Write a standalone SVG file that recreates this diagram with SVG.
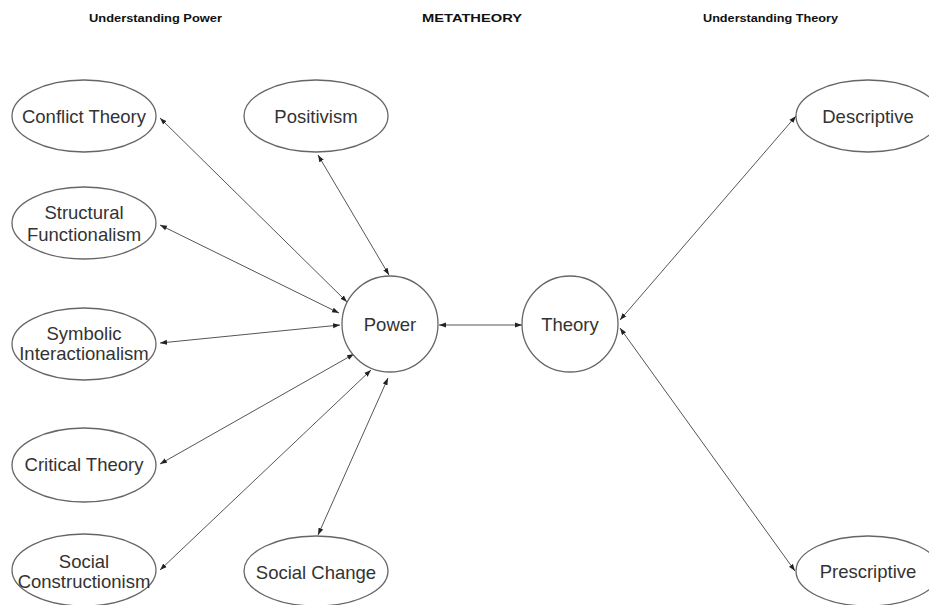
<svg xmlns="http://www.w3.org/2000/svg" width="929" height="605" viewBox="0 0 929 605">
<style>
.node{fill:#fff;stroke:#666;stroke-width:1.3}
.lbl{font-family:"Liberation Sans",Arial,sans-serif;font-size:18.5px;fill:#333;text-anchor:middle}
.hdr{font-family:"Liberation Sans",Arial,sans-serif;font-size:11.5px;font-weight:bold;fill:#111}
.con{stroke:#555;stroke-width:1;fill:none;marker-start:url(#ah);marker-end:url(#ah)}
</style>
<defs>
<marker id="ah" markerUnits="userSpaceOnUse" markerWidth="8" markerHeight="6" refX="7" refY="3" orient="auto-start-reverse">
<path d="M0,0.5 L7,3 L0,5.5 Z" fill="#222"/>
</marker>
</defs>
<rect width="929" height="605" fill="#fff"/>
<g id="headers">
<text class="hdr" x="89" y="22" textLength="133" lengthAdjust="spacingAndGlyphs">Understanding Power</text>
<text class="hdr" x="422" y="22" font-size="12.5" textLength="100" lengthAdjust="spacingAndGlyphs">METATHEORY</text>
<text class="hdr" x="703" y="22" textLength="135" lengthAdjust="spacingAndGlyphs">Understanding Theory</text>
</g>
<g id="connectors">
<line class="con" x1="160" y1="118" x2="347" y2="302"/>
<line class="con" x1="160" y1="225" x2="339" y2="313"/>
<line class="con" x1="160" y1="343" x2="340" y2="325"/>
<line class="con" x1="160" y1="464" x2="354" y2="354"/>
<line class="con" x1="160" y1="570" x2="371" y2="370"/>
<line class="con" x1="318" y1="155" x2="389" y2="275"/>
<line class="con" x1="318" y1="535" x2="388" y2="378"/>
<line class="con" x1="439" y1="325" x2="522" y2="325"/>
<line class="con" x1="620" y1="320" x2="796" y2="116"/>
<line class="con" x1="620" y1="328" x2="795" y2="571"/>
</g>
<g id="conflict-theory">
<ellipse class="node" cx="84" cy="116" rx="72" ry="36"/>
<text class="lbl" x="84" y="123">Conflict Theory</text>
</g>
<g id="positivism">
<ellipse class="node" cx="316" cy="116" rx="72" ry="36"/>
<text class="lbl" x="316" y="123">Positivism</text>
</g>
<g id="structural-functionalism">
<ellipse class="node" cx="84" cy="223" rx="72" ry="36"/>
<text class="lbl" x="84" y="219">Structural</text>
<text class="lbl" x="84" y="241">Functionalism</text>
</g>
<g id="symbolic-interactionalism">
<ellipse class="node" cx="84" cy="344" rx="72" ry="36"/>
<text class="lbl" x="84" y="340" font-size="15.5">Symbolic</text>
<text class="lbl" x="84" y="360" font-size="15.5">Interactionalism</text>
</g>
<g id="critical-theory">
<ellipse class="node" cx="84" cy="465" rx="72" ry="37"/>
<text class="lbl" x="84" y="471" font-size="19">Critical Theory</text>
</g>
<g id="social-constructionism">
<ellipse class="node" cx="84" cy="570" rx="72" ry="36"/>
<text class="lbl" x="84" y="568" font-size="15.5">Social</text>
<text class="lbl" x="84" y="588" font-size="15.5">Constructionism</text>
</g>
<g id="social-change">
<ellipse class="node" cx="316" cy="571" rx="72" ry="35"/>
<text class="lbl" x="316" y="579" font-size="19">Social Change</text>
</g>
<g id="power">
<circle class="node" cx="390" cy="324" r="48"/>
<text class="lbl" x="390" y="331" font-size="19">Power</text>
</g>
<g id="theory">
<circle class="node" cx="570" cy="324" r="48"/>
<text class="lbl" x="570" y="331">Theory</text>
</g>
<g id="descriptive">
<ellipse class="node" cx="868" cy="116" rx="72" ry="36"/>
<text class="lbl" x="868" y="123" font-size="19">Descriptive</text>
</g>
<g id="prescriptive">
<ellipse class="node" cx="868" cy="571" rx="72" ry="35"/>
<text class="lbl" x="868" y="578" font-size="19">Prescriptive</text>
</g>
</svg>
